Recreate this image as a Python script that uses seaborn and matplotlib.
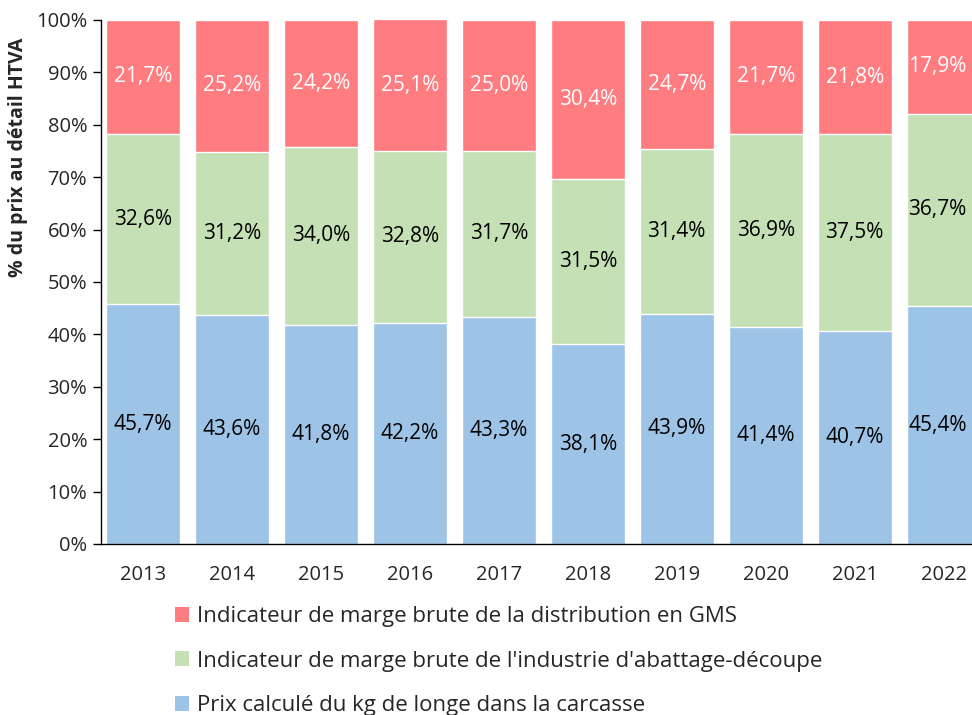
import numpy as np
import pandas as pd
import matplotlib
matplotlib.use("Agg")
import matplotlib.pyplot as plt
import seaborn as sns
from matplotlib.patches import Patch

# données
annees = ["2013", "2014", "2015", "2016", "2017", "2018", "2019", "2020", "2021", "2022"]
prix_carcasse = [45.7, 43.6, 41.8, 42.2, 43.3, 38.1, 43.9, 41.4, 40.7, 45.4]
marge_industrie = [32.6, 31.2, 34.0, 32.8, 31.7, 31.5, 31.4, 36.9, 37.5, 36.7]
marge_gms = [21.7, 25.2, 24.2, 25.1, 25.0, 30.4, 24.7, 21.7, 21.8, 17.9]

noms = ["Indicateur de marge brute de la distribution en GMS",
        "Indicateur de marge brute de l'industrie d'abattage-découpe",
        "Prix calculé du kg de longe dans la carcasse"]
couleurs = ["#FF7C80", "#C5E0B4", "#9DC3E6"]

sns.set_style("white")
plt.rcParams['font.family'] = ['Open Sans', 'DejaVu Sans']

df = pd.DataFrame({"annee": annees, "prix": prix_carcasse,
                   "industrie": marge_industrie, "gms": marge_gms})
df["cum_ind"] = df["prix"] + df["industrie"]
df["cum_tot"] = df["cum_ind"] + df["gms"]

fig = plt.figure(figsize=(9.72, 7.15), dpi=100)
ax = fig.add_axes([0.104, 0.2392, 0.9126, 0.733])

# barres empilées (du haut vers le bas)
sns.barplot(data=df, x="annee", y="cum_tot", color=couleurs[0], width=0.83, saturation=1, ax=ax)
sns.barplot(data=df, x="annee", y="cum_ind", color=couleurs[1], width=0.83, saturation=1, ax=ax)
sns.barplot(data=df, x="annee", y="prix", color=couleurs[2], width=0.83, saturation=1, ax=ax)

# étiquettes
def fmt(v):
    return f"{v:.1f}%".replace(".", ",")

fs = 15
for i in range(len(annees)):
    xi = i if i < len(annees) - 1 else i - 0.07
    ax.text(xi, df["prix"][i] / 2, fmt(df["prix"][i]), ha="center", va="center", fontsize=fs, color="black")
    ax.text(xi, df["prix"][i] + df["industrie"][i] / 2, fmt(df["industrie"][i]), ha="center", va="center",
            fontsize=fs, color="black")
    ax.text(xi, df["cum_ind"][i] + df["gms"][i] / 2, fmt(df["gms"][i]), ha="center", va="center",
            fontsize=fs, color="white")

ax.set_xlim(-0.47, 9.5)
ax.set_ylim(0, 100)
ax.set_yticks(np.arange(0, 101, 10))
ax.set_yticklabels([f"{v}%" for v in range(0, 101, 10)], fontsize=14.5)
ax.tick_params(axis="y", left=True, length=6, width=1, color="black", pad=4)
ax.tick_params(axis="x", bottom=False, labelsize=14.5, pad=12)
ax.set_xlabel("")
ax.set_ylabel("% du prix au détail HTVA", fontsize=14, fontweight="bold")
ax.yaxis.set_label_coords(-0.082, 0.737)

for s in ["top", "right"]:
    ax.spines[s].set_visible(False)
for s in ["left", "bottom"]:
    ax.spines[s].set_color("black")
    ax.spines[s].set_linewidth(1)

handles = [Patch(facecolor=c, edgecolor="none") for c in couleurs]
fig.legend(handles, noms, loc="upper left", bbox_to_anchor=(0.18, 0.152), frameon=False,
           fontsize=16, handlelength=0.65, handleheight=0.65, handletextpad=0.35, labelspacing=1.05,
           borderpad=0, borderaxespad=0)

fig.savefig("out.png", dpi=100)
